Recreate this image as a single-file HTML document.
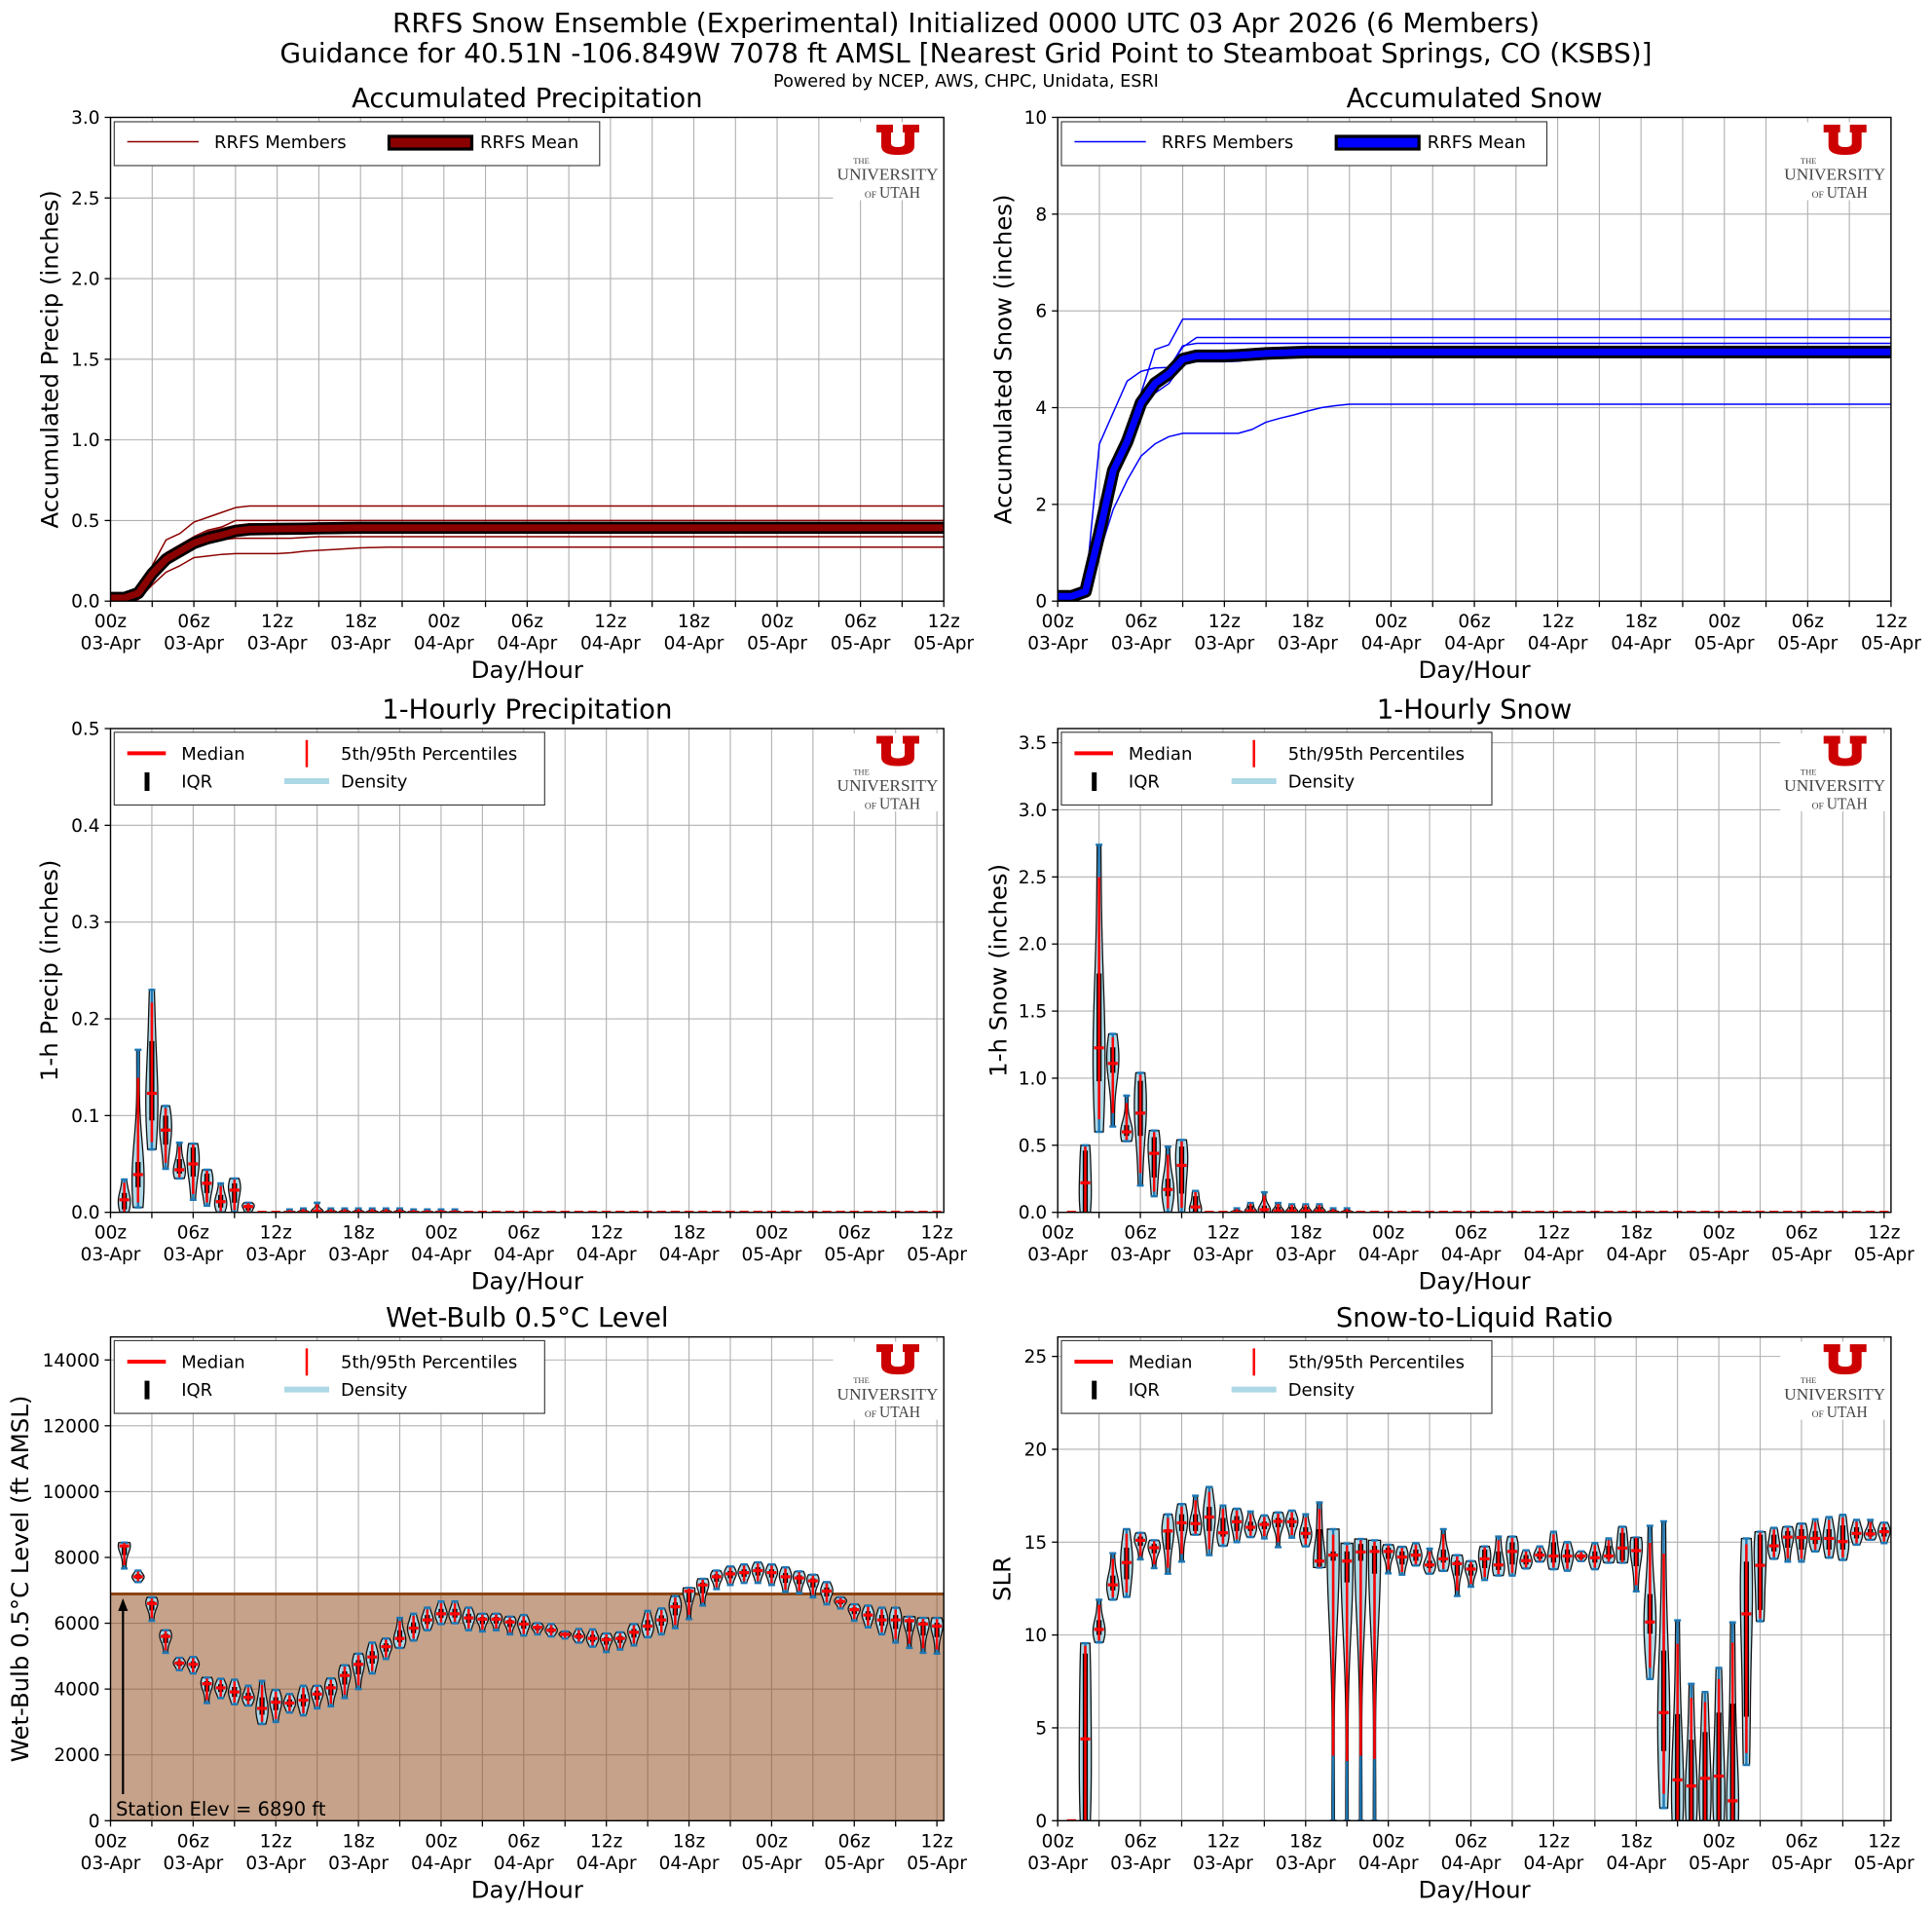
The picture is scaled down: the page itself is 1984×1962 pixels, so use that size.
<!DOCTYPE html>
<html><head><meta charset="utf-8"><style>
html,body{margin:0;padding:0;background:#fff;}
svg{display:block;font-family:"DejaVu Sans","Liberation Sans",sans-serif;}
</style></head><body>
<svg id="s" width="1984" height="1962" viewBox="0 0 1984 1962" xmlns="http://www.w3.org/2000/svg"></svg>
<script>
const o=[];
const f=(n)=>Math.round(n*100)/100;
function T(x,y,s,size,anchor,extra){o.push(`<text x="${f(x)}" y="${f(y)}" font-size="${size}" text-anchor="${anchor||'middle'}" ${extra||''}>${s}</text>`);}
function L(x1,y1,x2,y2,c,w,extra){o.push(`<line x1="${f(x1)}" y1="${f(y1)}" x2="${f(x2)}" y2="${f(y2)}" stroke="${c}" stroke-width="${w}" ${extra||''}/>`);}
function R(x,y,w,h,fill,extra){o.push(`<rect x="${f(x)}" y="${f(y)}" width="${f(w)}" height="${f(h)}" fill="${fill}" ${extra||''}/>`);}

T(992,33,"RRFS Snow Ensemble (Experimental) Initialized 0000 UTC 03 Apr 2026 (6 Members)",28);
T(992,64,"Guidance for 40.51N -106.849W 7078 ft AMSL [Nearest Grid Point to Steamboat Springs, CO (KSBS)]",28);
T(992,89,"Powered by NCEP, AWS, CHPC, Unidata, ESRI",17.6);

const W=855.7,H=496.7;
let clipId=0;
function panel(p){
  const X=t=>p.x0+t/p.xmax*W, Y=v=>p.y0+H-v/p.ymax*H;
  R(p.x0,p.y0,W,H,"#fff");
  for(let t=0;t<=60;t+=3)L(X(t),p.y0,X(t),p.y0+H,"#b0b0b0",1.1);
  p.yticks.forEach(v=>L(p.x0,Y(v),p.x0+W,Y(v),"#b0b0b0",1.1));
  clipId++;
  o.push(`<clipPath id="c${clipId}"><rect x="${p.x0}" y="${p.y0}" width="${W}" height="${H}"/></clipPath><g clip-path="url(#c${clipId})">`);
  p.draw(X,Y);
  o.push(`</g>`);
  const lx=p.x0, ly=p.y0;
  R(lx+742,ly+5,113,80,"#fff");
  const ux=lx+786.5, uy=ly+7.5;
  o.push(`<path transform="translate(${f(ux)},${f(uy)})" fill="#cc0000" d="M0,0 H17 V8 H15 V19 Q15,23 22,23 Q29,23 29,19 V8 H27 V0 H44 V8 H39 V22 Q39,31 22,31 Q5,31 5,22 V8 H0 Z"/>`);
  T(lx+771,ly+47.5,"THE",8.5,"middle",'font-family="Liberation Serif,serif" fill="#444"');
  T(lx+798,ly+64.2,"UNIVERSITY",17,"middle",'font-family="Liberation Serif,serif" fill="#444" textLength="104" lengthAdjust="spacingAndGlyphs"');
  T(lx+780.5,ly+82.5,"OF",9.5,"middle",'font-family="Liberation Serif,serif" fill="#444"');
  T(lx+810.5,ly+82.5,"UTAH",17,"middle",'font-family="Liberation Serif,serif" fill="#444" textLength="42" lengthAdjust="spacingAndGlyphs"');
  R(p.x0,p.y0,W,H,"none",'stroke="#000" stroke-width="1.4"');
  const hrs=["00z","06z","12z","18z"],days=["03-Apr","04-Apr","05-Apr"];
  for(let t=0;t<=60;t+=3){L(X(t),p.y0+H,X(t),p.y0+H+6,"#000",1.3);
    if(t%6==0){T(X(t),p.y0+H+27,hrs[(t/6)%4],18.5);T(X(t),p.y0+H+49.5,days[Math.floor(t/24)],18.5);}}
  p.yticks.forEach(v=>{L(p.x0-6,Y(v),p.x0,Y(v),"#000",1.3);T(p.x0-11,Y(v)+6.5,p.fmt(v),18.5,"end");});
  T(p.x0+W/2,p.y0+H+79,"Day/Hour",24.4);
  T(p.x0+W/2,p.y0-10.5,p.title,27.5);
  o.push(`<text transform="translate(${p.ylx+8.5},${p.y0+H/2}) rotate(-90)" font-size="24.4" text-anchor="middle">${p.ylabel}</text>`);
  p.legend(p.x0,p.y0);
}
function accLegend(c){return (x0,y0)=>{
  R(x0+3.8,y0+4.5,498.5,45,"#fff",'stroke="#333" stroke-width="1.1"');
  L(x0+17.2,y0+25,x0+90.5,y0+25,c,1.5);
  T(x0+106.5,y0+31.5,"RRFS Members",18,"start");
  R(x0+286,y0+19.5,85,13,c,'stroke="#000" stroke-width="3.2"');
  T(x0+379.5,y0+31.5,"RRFS Mean",18,"start");
};}
function vLegend(x0,y0){
  R(x0+3.8,y0+3.8,442,74.7,"#fff",'stroke="#333" stroke-width="1.1"');
  L(x0+17.2,y0+25.4,x0+56.8,y0+25.4,"#ff0000",4);
  T(x0+72.7,y0+31.9,"Median",18,"start");
  R(x0+35,y0+45,5,19,"#000");
  T(x0+72.7,y0+60.5,"IQR",18,"start");
  L(x0+201.5,y0+11.8,x0+201.5,y0+39.7,"#ff0000",2.5);
  T(x0+236.5,y0+31.9,"5th/95th Percentiles",18,"start");
  R(x0+178.5,y0+51,46,6,"#add8e6");
  T(x0+236.5,y0+60.5,"Density",18,"start");
}
function ext(a){const r=a.slice();while(r.length<61)r.push(r[r.length-1]);return r;}
function poly(X,Y,arr,c,w){o.push(`<polyline fill="none" stroke="${c}" stroke-width="${w}" stroke-linejoin="round" points="${arr.map((v,i)=>f(X(i))+","+f(Y(v))).join(" ")}"/>`);}

function violin(X,Y,t,s){
  const [mn,q1,md,q3,mx]=s, cx=X(t), hw=6.2;
  if(mx-mn<1e-9){L(cx-4.7,Y(md),cx+4.7,Y(md),"#ff0000",3.2);return;}
  const d=[mn,q1,md,md,q3,mx];
  const m=d.reduce((a,b)=>a+b)/6; const sd=Math.sqrt(d.reduce((a,b)=>a+(b-m)**2,0)/5);
  const bw=Math.max(sd*0.699,1e-9);
  const N=50,pts=[];let dm=0;
  for(let i=0;i<=N;i++){const v=mn+(mx-mn)*i/N;let den=0;d.forEach(x=>den+=Math.exp(-0.5*((v-x)/bw)**2));pts.push([v,den]);dm=Math.max(dm,den);}
  let path="M"+pts.map(p=>f(cx+hw*p[1]/dm)+","+f(Y(p[0]))).join(" L");
  path+=" L"+pts.slice().reverse().map(p=>f(cx-hw*p[1]/dm)+","+f(Y(p[0]))).join(" L")+"Z";
  o.push(`<path d="${path}" fill="#add8e6" stroke="#111" stroke-width="1.3"/>`);
  L(cx,Y(mn),cx,Y(mx),"#1f77b4",2.4);
  L(cx-3.5,Y(mn),cx+3.5,Y(mn),"#1f77b4",2.4);L(cx-3.5,Y(mx),cx+3.5,Y(mx),"#1f77b4",2.4);
  if(q3>q1)R(cx-2.6,Y(q3),5.2,Math.max(Y(q1)-Y(q3),0.5),"#000");
  const p5=mn+0.25*(q1-mn),p95=q3+0.75*(mx-q3);
  L(cx,Y(p5),cx,Y(p95),"#ff0000",2.5);
  L(cx-5,Y(md),cx+5,Y(md),"#ff0000",3.2);
}
function drawViolins(X,Y,data){
  for(let t=1;t<=60;t++){const s=data[t]||[0,0,0,0,0];violin(X,Y,t,s);}
}

const P={1:[0,0.003,0.013,0.02,0.034],2:[0.005,0.026,0.039,0.052,0.168],3:[0.065,0.095,0.123,0.177,0.23],4:[0.045,0.07,0.085,0.1,0.11],5:[0.035,0.04,0.044,0.055,0.072],6:[0.013,0.037,0.05,0.067,0.071],7:[0.007,0.02,0.03,0.04,0.044],8:[0,0.005,0.011,0.018,0.03],9:[0,0.01,0.023,0.03,0.035],10:[0,0.002,0.006,0.008,0.01],13:[0,0,0,0.001,0.003],14:[0,0,0,0.002,0.004],15:[0,0,0.001,0.003,0.01]};
for(let t=16;t<=21;t++)P[t]=[0,0,0,0.002,0.004];for(let t=22;t<=25;t++)P[t]=[0,0,0,0.001,0.003];
const S={2:[0,0,0.22,0.46,0.5],3:[0.6,0.977,1.226,1.78,2.74],4:[0.64,1.04,1.11,1.23,1.33],5:[0.53,0.57,0.6,0.65,0.87],6:[0.2,0.57,0.74,0.98,1.04],7:[0.12,0.26,0.44,0.56,0.61],8:[0,0.12,0.17,0.25,0.49],9:[0,0.14,0.35,0.49,0.54],10:[0,0,0.04,0.12,0.16],13:[0,0,0,0.01,0.03],14:[0,0,0.01,0.05,0.07],15:[0,0,0.02,0.05,0.15],16:[0,0,0.01,0.04,0.07],17:[0,0,0.01,0.04,0.06],18:[0,0,0.01,0.04,0.06],19:[0,0,0.01,0.04,0.06],20:[0,0,0,0.01,0.03],21:[0,0,0,0.01,0.03]};
const wz={1:[672,680,735],2:[740,755,768],3:[805,820,862],4:[885,900,940],5:[952,965,982],6:[950,968,990],7:[1000,1015,1062],8:[1003,1025,1050],9:[1005,1035,1065],10:[1020,1048,1068],11:[1008,1075,1113],12:[1030,1060,1108],13:[1040,1062,1085],14:[1020,1055,1092],15:[1020,1040,1075],16:[1002,1025,1070],17:[970,995,1050],18:[942,968,1028],19:[915,950,990],20:[905,925,955],21:[855,905,928],22:[845,880,910],23:[830,860,885],24:[815,845,870],25:[815,845,868],26:[830,855,885],27:[845,858,888],28:[845,858,885],29:[852,865,895],30:[848,870,898],31:[868,878,895],32:[870,885,900],33:[888,895,905],34:[882,900,915],35:[883,905,925],36:[893,908,938],37:[890,905,932],38:[870,890,922],39:[838,875,902],40:[832,860,895],41:[802,828,880],42:[782,790,858],43:[760,775,825],44:[740,755,785],45:[730,748,775],46:[725,745,770],47:[720,740,770],48:[725,745,775],49:[732,755,792],50:[742,758,795],51:[750,765,805],52:[768,790,822],53:[805,815,832],54:[822,835,862],55:[825,848,878],56:[830,860,895],57:[830,860,915],58:[852,862,928],59:[855,870,940],60:[855,875,942]};
const WB={};for(const k in wz){const [a,b,c]=wz[k].map(z=>(1348-z)*12.5);WB[k]=[c,b-(b-c)*0.4,b,b+(a-b)*0.4,a];}
const SL={1:[0,0,0,0,0],2:[0,0,4.4,9.0,9.56],3:[9.6,10.0,10.3,10.8,11.9],4:[11.9,12.4,12.7,13.2,14.4],5:[12.05,13.0,13.9,14.7,15.7],6:[14.07,14.8,15.1,15.3,15.5],7:[13.6,14.4,14.7,14.9,15.1],8:[13.3,14.6,15.6,15.7,16.5],9:[13.95,15.6,16.04,16.5,17.05],10:[15.4,15.6,16.0,16.5,17.5],11:[14.3,15.6,16.35,16.9,17.97],12:[14.8,15.3,15.5,16.3,16.97],13:[15.0,15.6,16.1,16.4,16.8],14:[15.27,15.6,15.8,16.1,16.65],15:[15.2,15.7,15.95,16.1,16.44],16:[14.73,15.8,16.12,16.3,16.6],17:[15.24,15.8,16.1,16.3,16.7],18:[14.77,15.2,15.47,15.8,16.5],19:[13.63,13.7,13.98,15.7,17.14],20:[0,14.0,14.3,14.5,15.7],21:[0,12.83,13.98,14.5,14.93],22:[0,14.0,14.47,14.9,15.17],23:[0,13.3,14.5,14.8,15.1],24:[13.32,14.1,14.5,14.7,14.86],25:[13.25,13.8,14.2,14.5,14.75],26:[13.74,14.0,14.3,14.6,14.95],27:[13.3,13.6,13.77,14.0,14.65],28:[13.45,13.9,14.1,14.6,15.7],29:[12.1,13.2,13.84,14.0,14.3],30:[12.6,13.2,13.55,13.8,13.98],
31:[12.96,13.6,14.1,14.6,14.77],32:[13.2,13.5,13.77,14.5,15.3],33:[13.2,13.8,14.5,15.0,15.3],34:[13.58,13.8,14.0,14.3,14.56],35:[13.95,14.1,14.3,14.5,14.77],36:[13.54,13.9,14.25,15.0,15.56],37:[13.46,13.9,14.25,14.6,15.0],38:[13.98,14.1,14.25,14.35,14.5],39:[13.54,13.9,14.16,14.5,14.95],40:[13.89,14.1,14.25,14.8,15.2],41:[13.89,14.0,14.68,15.5,15.83],42:[12.35,13.7,14.54,15.2,15.25],43:[7.63,10.07,10.7,12.2,15.88],44:[0.68,3.75,5.82,9.16,16.12],45:[0,0,2.2,5.74,10.79],46:[0,0,1.87,4.36,7.37],47:[0,0,2.28,4.77,6.93],48:[0,0,2.4,5.82,8.23],49:[0,0,1.07,6.3,10.68],50:[3.0,5.6,11.14,13.95,15.2],51:[10.74,11.35,13.75,15.4,15.56],52:[14.1,14.5,14.8,15.4,15.77],53:[13.95,14.7,15.27,15.6,15.83],54:[13.95,14.6,15.25,15.7,16.0],55:[14.5,14.9,15.2,15.6,16.23],56:[14.16,14.6,15.2,15.7,16.35],57:[14.04,14.6,15.03,15.9,16.47],58:[14.86,15.2,15.47,15.8,16.2],59:[15.13,15.3,15.44,15.7,16.2],60:[14.95,15.3,15.56,15.8,16.05]};

const LX=113.5,RX=1086.2,R1=120.5,R2=748,R3=1372.6;
const f1=v=>v.toFixed(1), f0=v=>String(v);

panel({x0:LX,y0:R1,xmax:60,ymax:3,yticks:[0,0.5,1,1.5,2,2.5,3],fmt:f1,title:"Accumulated Precipitation",ylabel:"Accumulated Precip (inches)",ylx:51,legend:accLegend("#8b0000"),
 draw:(X,Y)=>{
  const c="#8b0000";
  [[0.03,0.03,0.08,0.22,0.38,0.42,0.49,0.52,0.55,0.58,0.59],
   [0,0,0.01,0.10,0.18,0.22,0.27,0.28,0.29,0.295,0.295,0.295,0.295,0.30,0.31,0.315,0.32,0.325,0.33,0.333,0.335],
   [0.02,0.02,0.06,0.18,0.26,0.30,0.34,0.36,0.38,0.39,0.39,0.39,0.39,0.39,0.395,0.40],
   [0.02,0.03,0.07,0.20,0.30,0.35,0.40,0.44,0.46,0.50],
   [0.02,0.03,0.06,0.19,0.29,0.34,0.39,0.43,0.45,0.47,0.48],
   [0.02,0.02,0.05,0.18,0.27,0.32,0.37,0.40,0.42,0.45,0.46]].forEach(a=>poly(X,Y,ext(a),c,1.5));
  const m=ext([0.02,0.02,0.05,0.17,0.26,0.31,0.36,0.39,0.41,0.435,0.445,0.447,0.448,0.449,0.45,0.452,0.453,0.454,0.455]);
  poly(X,Y,m,"#000",12.5);poly(X,Y,m,c,7);
 }});
panel({x0:RX,y0:R1,xmax:60,ymax:10,yticks:[0,2,4,6,8,10],fmt:f0,title:"Accumulated Snow",ylabel:"Accumulated Snow (inches)",ylx:1030,legend:accLegend("#0000ff"),
 draw:(X,Y)=>{
  const c="#0000ff";
  [[0.1,0.1,0.25,1.6,2.9,3.6,4.3,5.2,5.3,5.83],
   [0.1,0.1,0.25,3.25,3.9,4.55,4.75,4.82,4.83,5.25,5.45],
   [0.1,0.1,0.2,1.2,2.6,3.2,4.1,4.5,4.8,5.28,5.33],
   [0,0,0.1,1.0,1.9,2.5,3.0,3.25,3.4,3.47,3.47,3.47,3.47,3.47,3.55,3.7,3.78,3.85,3.93,4.0,4.04,4.07],
   [0.1,0.1,0.2,1.3,2.6,3.2,4.0,4.4,4.6,5.0,5.15,5.15,5.15,5.15,5.17,5.19,5.2],
   [0.1,0.1,0.2,1.2,2.5,3.1,3.9,4.3,4.5,4.9,4.95,4.95,4.95,4.96,5.0,5.02,5.05]].forEach(a=>poly(X,Y,ext(a),c,1.5));
  const m=ext([0.1,0.1,0.2,1.4,2.7,3.3,4.1,4.5,4.7,5.0,5.07,5.07,5.07,5.08,5.1,5.12,5.13,5.14,5.15]);
  poly(X,Y,m,"#000",13);poly(X,Y,m,c,7);
 }});
panel({x0:LX,y0:R2,xmax:60.5,ymax:0.5,yticks:[0,0.1,0.2,0.3,0.4,0.5],fmt:f1,title:"1-Hourly Precipitation",ylabel:"1-h Precip (inches)",ylx:50.6,legend:vLegend,
 draw:(X,Y)=>drawViolins(X,Y,P)});
panel({x0:RX,y0:R2,xmax:60.5,ymax:3.606,yticks:[0,0.5,1,1.5,2,2.5,3,3.5],fmt:f1,title:"1-Hourly Snow",ylabel:"1-h Snow (inches)",ylx:1025,legend:vLegend,
 draw:(X,Y)=>drawViolins(X,Y,S)});
panel({x0:LX,y0:R3,xmax:60.5,ymax:14700,yticks:[0,2000,4000,6000,8000,10000,12000,14000],fmt:f0,title:"Wet-Bulb 0.5°C Level",ylabel:"Wet-Bulb 0.5°C Level (ft AMSL)",ylx:20.4,legend:vLegend,
 draw:(X,Y)=>{
  R(LX,Y(6890),W,Y(0)-Y(6890),"#8b4513",'fill-opacity="0.5"');
  L(LX,Y(6890),LX+W,Y(6890),"#8b4513",3);
  drawViolins(X,Y,WB);
  L(126.3,1842,126.3,1652,"#000",2.2);
  o.push(`<path d="M121.3,1654 L126.3,1641 L131.3,1654 Z" fill="#000"/>`);
  T(119,1864,"Station Elev = 6890 ft",19.5,"start");
 }});
panel({x0:RX,y0:R3,xmax:60.5,ymax:26.05,yticks:[0,5,10,15,20,25],fmt:f0,title:"Snow-to-Liquid Ratio",ylabel:"SLR",ylx:1029,legend:vLegend,
 draw:(X,Y)=>drawViolins(X,Y,SL)});

document.getElementById("s").innerHTML=o.join("");
</script>
</body></html>
